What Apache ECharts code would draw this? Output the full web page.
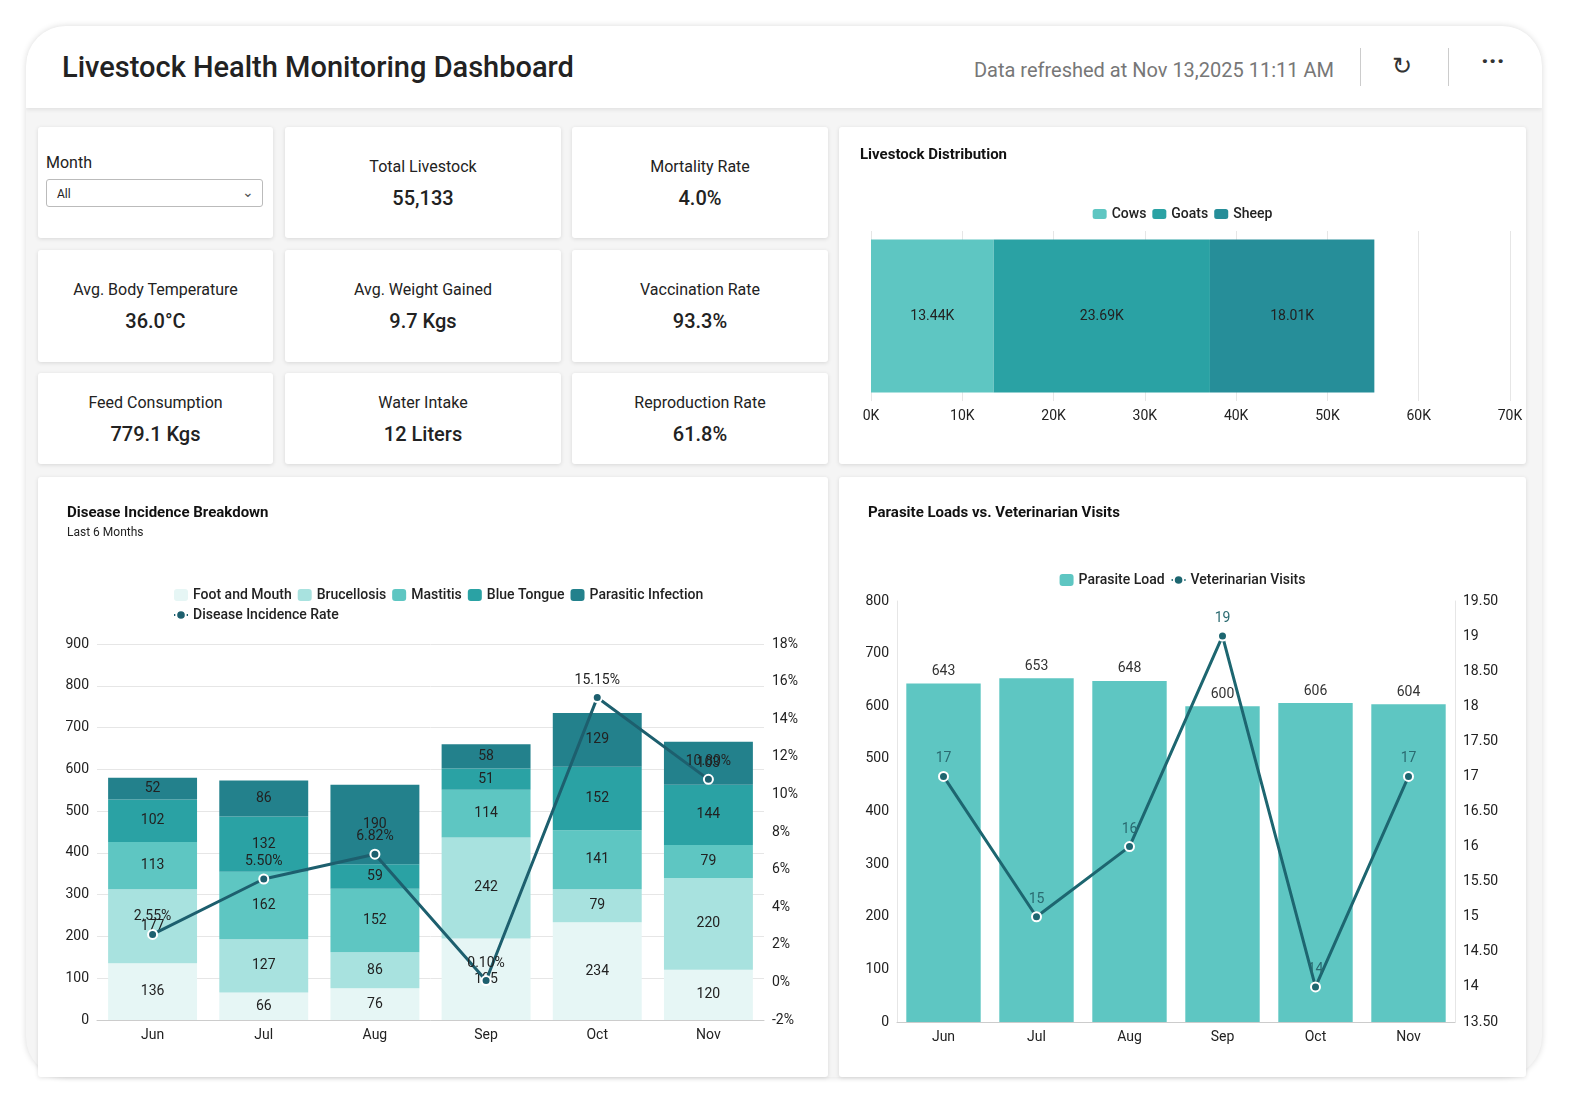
<!DOCTYPE html>
<html><head><meta charset="utf-8">
<script src="https://cdn.jsdelivr.net/npm/echarts@6/dist/echarts.min.js"></script>
<style>
body{margin:0;background:#fff;font-family:Roboto,"Noto Sans",sans-serif;color:#222}
.frame{position:absolute;left:26px;top:26px;width:1516px;height:1051px;border-radius:40px;background:#f5f5f5;box-shadow:0 0 6px rgba(0,0,0,.15);overflow:hidden}
.head{position:absolute;left:0;top:0;width:1516px;height:82px;background:#fff;box-shadow:0 2px 4px rgba(0,0,0,.08)}
.card{position:absolute;background:#fff;box-shadow:0 1px 4px rgba(0,0,0,.12);border-radius:3px}
.kpi{text-align:center}
.kpi .l{font-size:16px;color:#222;margin-top:30px}
.kpi .v{font-size:20px;font-weight:500;margin-top:10px}
.chart{position:absolute}
</style></head><body>
<div class="frame">
 <div class="head">
  <div style="position:absolute;left:36px;top:24px;font-size:29px;font-weight:500;color:#222">Livestock Health Monitoring Dashboard</div>
  <div style="position:absolute;right:208px;top:32px;font-size:20px;color:#777">Data refreshed at Nov 13,2025 11:11 AM</div>
  <div style="position:absolute;left:1334px;top:22px;width:1px;height:38px;background:#ccc"></div>
  <div style="position:absolute;left:1422px;top:22px;width:1px;height:38px;background:#ccc"></div>
  <div style="position:absolute;left:1366px;top:26px;font-size:24px;color:#333">&#x21bb;</div>
  <div style="position:absolute;left:1455px;top:20px;font-size:26px;font-weight:bold;color:#333">&middot;&middot;&middot;</div>
 </div>
</div>
<div class="card" style="left:38px;top:127px;width:235px;height:111px">
 <div style="position:absolute;left:8px;top:26px;font-size:16px">Month</div>
 <div style="position:absolute;left:8px;top:52px;width:217px;height:28px;border:1px solid #bbb;border-radius:3px;font-size:12px;line-height:28px;padding-left:10px;box-sizing:border-box">All<span style="position:absolute;right:8px;top:-2px;font-size:14px;color:#555">&#x2304;</span></div>
</div>
<div id="kpis"></div>
<div class="card" style="left:839px;top:127px;width:687px;height:337px"></div>
<div class="card" style="left:38px;top:477px;width:790px;height:600px"></div>
<div class="card" style="left:839px;top:477px;width:687px;height:600px"></div>
<div id="dist" class="chart" style="left:839px;top:127px;width:687px;height:337px"></div>
<div id="disease" class="chart" style="left:38px;top:477px;width:790px;height:600px"></div>
<div id="para" class="chart" style="left:839px;top:477px;width:687px;height:600px"></div>
<script>
var kpiLabels = ['Total Livestock','Mortality Rate','Avg. Body Temperature','Avg. Weight Gained','Vaccination Rate','Feed Consumption','Water Intake','Reproduction Rate'];
var kpiValues = ['55,133','4.0%','36.0°C','9.7 Kgs','93.3%','779.1 Kgs','12 Liters','61.8%'];

var distNames = ['Cows','Goats','Sheep'];
var distValues = [13440, 23690, 18010];

var months = ['Jun','Jul','Aug','Sep','Oct','Nov'];
var diseaseNames = ['Foot and Mouth','Brucellosis','Mastitis','Blue Tongue','Parasitic Infection'];
var footMouth = [136, 66, 76, 195, 234, 120];
var brucellosis = [177, 127, 86, 242, 79, 220];
var mastitis = [113, 162, 152, 114, 141, 79];
var blueTongue = [102, 132, 59, 51, 152, 144];
var parasitic = [52, 86, 190, 58, 129, 103];
var incidenceRate = [2.55, 5.50, 6.82, 0.1, 15.15, 10.8];

var parasiteLoad = [643, 653, 648, 600, 606, 604];
var vetVisits = [17, 15, 16, 19, 14, 17];

// KPI cards
var cols = [[38,235],[285,276],[572,256]];
var rows = [[250,112],[373,91]];
var html = '';
kpiLabels.forEach(function (l, i) {
  var c, r;
  if (i < 2) { c = cols[i + 1]; r = [127, 111]; }
  else { c = cols[(i - 2) % 3]; r = rows[Math.floor((i - 2) / 3)]; }
  var mt = i >= 5 ? 20 : 30;
  html += '<div class="card kpi" style="left:' + c[0] + 'px;top:' + r[0] + 'px;width:' + c[1] + 'px;height:' + r[1] + 'px"><div class="l" style="margin-top:' + mt + 'px">' + l + '</div><div class="v">' + kpiValues[i] + '</div></div>';
});
document.getElementById('kpis').innerHTML = html;

var ff = 'Roboto';
var txt = { fontFamily: ff, color: '#222', fontSize: 14 };

var distColors = ['#5ec6c2', '#2aa2a4', '#268e99'];
var dist = echarts.init(document.getElementById('dist'));
dist.setOption({
  textStyle: { fontFamily: ff },
  title: { text: 'Livestock Distribution', left: 16, top: 16, textStyle: { fontSize: 15, fontWeight: 'bold', color: '#111', fontFamily: ff } },
  legend: { top: 75, left: 'center', itemWidth: 14, itemHeight: 10, itemGap: 6, textStyle: { fontSize: 14, fontWeight: 500, color: '#222' }, data: distNames },
  grid: { left: 32, right: 16, top: 104, bottom: 63 },
  xAxis: { type: 'value', min: 0, max: 70000, interval: 10000,
    axisLabel: { formatter: function (v) { return v / 1000 + 'K'; }, color: '#222', fontSize: 14 },
    splitLine: { lineStyle: { color: '#e6e6e6' } } },
  yAxis: { type: 'category', data: ['Livestock'], show: false },
  series: distNames.map(function (n, i) {
    return { name: n, type: 'bar', stack: 's', barWidth: '90%', color: distColors[i],
      data: [distValues[i]],
      label: { show: true, color: '#222', fontSize: 14, formatter: function (p) { return (p.value / 1000).toFixed(2) + 'K'; } } };
  })
});

var dColors = ['#e6f6f5', '#a8e2df', '#5ec6c2', '#2aa2a4', '#23818c'];
var dData = [footMouth, brucellosis, mastitis, blueTongue, parasitic];
var disease = echarts.init(document.getElementById('disease'));
var dSeries = diseaseNames.map(function (n, i) {
  return { name: n, type: 'bar', stack: 'd', barWidth: '80%', color: dColors[i], data: dData[i],
    label: { show: true, color: '#222', fontSize: 14 } };
});
dSeries.push({ name: 'Disease Incidence Rate', type: 'line', yAxisIndex: 1, data: incidenceRate,
  color: '#1d5f6e', lineStyle: { width: 3, color: '#1d5f6e' }, symbol: 'circle', symbolSize: 9,
  itemStyle: { color: '#1d5f6e', borderColor: '#fff', borderWidth: 2 },
  label: { show: true, position: 'top', color: '#222', fontSize: 14, formatter: function (p) { return p.value.toFixed(2) + '%'; } },
  labelLayout: { hideOverlap: true }, z: 10 });
disease.setOption({
  textStyle: { fontFamily: ff },
  title: { text: 'Disease Incidence Breakdown', subtext: 'Last 6 Months', left: 24, top: 24, itemGap: 6,
    textStyle: { fontSize: 15, fontWeight: 'bold', color: '#111', fontFamily: ff },
    subtextStyle: { fontSize: 12, color: '#222', fontFamily: ff } },
  legend: { top: 106, left: 130, width: 560, itemWidth: 14, itemHeight: 12, itemGap: 6,
    textStyle: { fontSize: 14, fontWeight: 500, color: '#222' }, data: diseaseNames.concat(['Disease Incidence Rate']) },
  grid: { left: 59, right: 64, top: 167, bottom: 57 },
  xAxis: { type: 'category', data: months, axisTick: { show: false }, axisLine: { lineStyle: { color: '#ccc' } }, axisLabel: txt },
  yAxis: [
    { type: 'value', min: 0, max: 900, interval: 100, axisLabel: txt, splitLine: { lineStyle: { color: '#e6e6e6' } } },
    { type: 'value', min: -2, max: 18, interval: 2, axisLabel: { fontFamily: ff, color: '#222', fontSize: 14, formatter: '{value}%' }, splitLine: { show: false } }
  ],
  series: dSeries
});

var para = echarts.init(document.getElementById('para'));
para.setOption({
  textStyle: { fontFamily: ff },
  title: { text: 'Parasite Loads vs. Veterinarian Visits', left: 24, top: 24, textStyle: { fontSize: 15, fontWeight: 'bold', color: '#111', fontFamily: ff } },
  legend: { top: 91, left: 'center', itemWidth: 14, itemHeight: 12, itemGap: 6, textStyle: { fontSize: 14, fontWeight: 500, color: '#222' } },
  grid: { left: 58, right: 71, top: 124, bottom: 55 },
  xAxis: { type: 'category', data: months, axisTick: { show: false }, axisLine: { lineStyle: { color: '#ccc' } }, axisLabel: txt },
  yAxis: [
    { type: 'value', min: 0, max: 800, interval: 100, axisLabel: txt, splitLine: { show: false }, axisLine: { show: true, lineStyle: { color: '#e6e6e6' } } },
    { type: 'value', min: 13.5, max: 19.5, interval: 0.5, axisLine: { show: true, lineStyle: { color: '#e6e6e6' } },
      axisLabel: { fontFamily: ff, color: '#222', fontSize: 14, formatter: function (v) { return v % 1 ? v.toFixed(2) : String(v); } }, splitLine: { show: false } }
  ],
  series: [
    { name: 'Parasite Load', type: 'bar', barWidth: '80%', color: '#5ec6c2', data: parasiteLoad,
      label: { show: true, position: 'top', color: '#333', fontSize: 14 } },
    { name: 'Veterinarian Visits', type: 'line', yAxisIndex: 1, data: vetVisits, color: '#1d6670',
      lineStyle: { width: 3 }, symbol: 'circle', symbolSize: 9,
      itemStyle: { color: '#1d6670', borderColor: '#fff', borderWidth: 2 },
      label: { show: true, position: 'top', color: '#2a6a70', fontSize: 14 }, z: 10 }
  ]
});
</script>
</body></html>
